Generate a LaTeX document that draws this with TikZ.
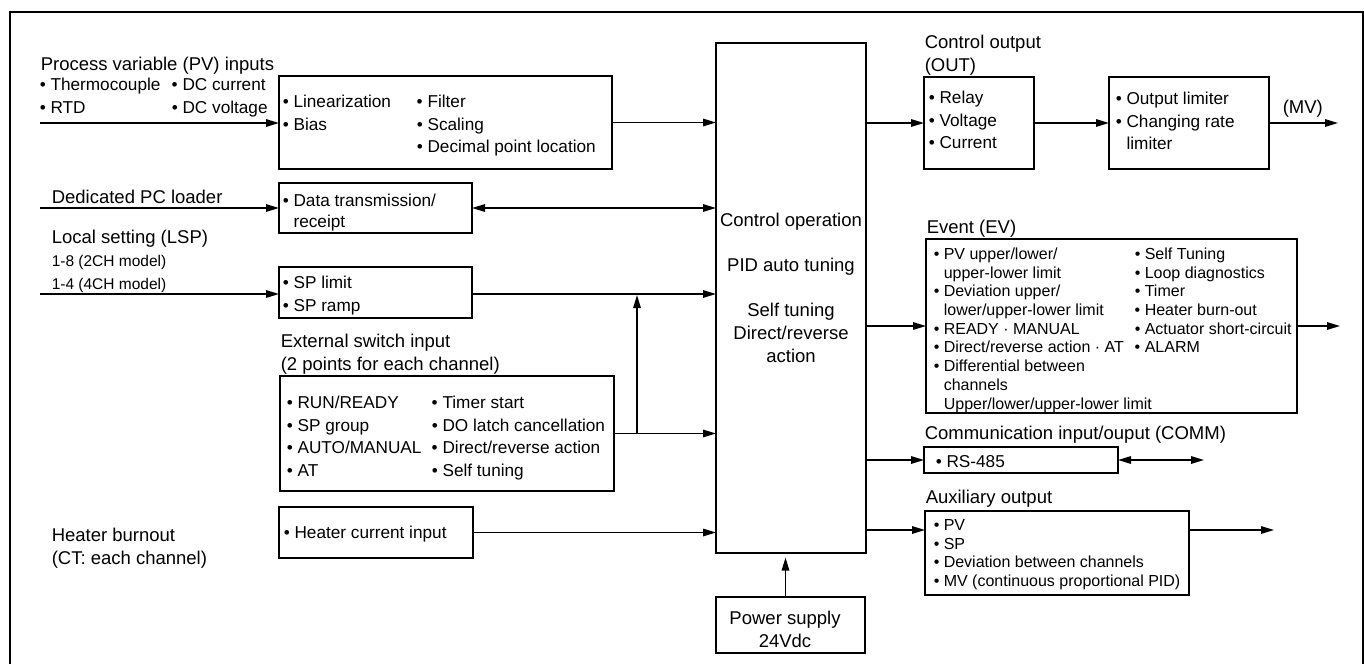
\documentclass[tikz,border=0pt]{standalone}
\usepackage{fontspec}
\setmainfont{Liberation Sans}
\usetikzlibrary{arrows.meta,positioning}

\newcommand\lblfont{\fontsize{18.5}{23}\selectfont}
\newcommand\boxfont{\fontsize{17.2}{22.5}\selectfont}
\newcommand\evfont{\fontsize{16}{18.7}\selectfont}
\newcommand\chfont{\fontsize{15.5}{23}\selectfont}
\newcommand\dotitem{•~}
\newcommand\bulind{\phantom{•~}}
\newcommand\rows[1]{\begin{tabular}{@{}l@{}}#1\end{tabular}}
\newcommand\twocol[2]{\begin{tabular}{@{}p{#1}@{}l@{}}#2\end{tabular}}

\begin{document}
\begin{tikzpicture}[->,>={Triangle[length=13pt,width=7.5pt]},line width=1.5pt,x=1pt,y=-1pt]

  \tikzstyle{blk}=[draw=black,line width=2pt,outer sep=0pt,inner sep=0pt,anchor=north west]
  \tikzstyle{txt}=[inner sep=0pt,align=left,font=\boxfont]
  \tikzstyle{lbl}=[inner sep=0pt,anchor=west,align=left,font=\lblfont]

  \useasboundingbox (0,0) rectangle (1364,664);
  \draw[-] (10,664) |- (1363,12) -- (1363,664);

  \coordinate (pvsrc)   at (40,123);
  \coordinate (pcsrc)   at (40,208);
  \coordinate (lspsrc)  at (40,294);
  \coordinate (swj)     at (637,433);
  \coordinate (mvend)   at (1338,123);
  \coordinate (evend)   at (1340,326);
  \coordinate (commend) at (1204,460);
  \coordinate (auxend)  at (1274,530);

  % inputs
  \node[lbl] (pvlbl) at (40,66) {Process variable (PV) inputs};
  \node[lbl,font=\boxfont] (pvsig) at (39,97.7)
    {\twocol{132pt}{\dotitem Thermocouple & \dotitem DC current\\\dotitem RTD & \dotitem DC voltage}};
  \node[lbl] (pclbl)  at (51,197) {Dedicated PC loader};
  \node[lbl] (lsplbl) at (51,239) {Local setting (LSP)};
  \node[lbl,font=\chfont] (lspch) at (51,274) {1-8 (2CH model)\\1-4 (4CH model)};
  \node[lbl] (htlbl)  at (51,548) {Heater burnout\\(CT: each channel)};

  \node[blk,minimum width=333,minimum height=93] (pv) at (279,76) {};
  \node[txt,below right=15.4pt and 3pt of pv.north west] (pvtxt)
    {\twocol{134pt}{\dotitem Linearization & \dotitem Filter\\\dotitem Bias & \dotitem Scaling\\ & \dotitem Decimal point location}};
  \node[blk,minimum width=193,minimum height=50] (pcdata) at (279,183) {};
  \node[txt,below right=7pt and 3pt of pcdata.north west] (pcdatatxt)
    {\rows{\dotitem Data transmission/\\[-1.5pt]\bulind receipt}};
  \node[blk,minimum width=193,minimum height=51] (sp) at (279,267) {};
  \node[txt,below right=5.4pt and 3pt of sp.north west] (sptxt)
    {\rows{\dotitem SP limit\\\dotitem SP ramp}};
  \node[blk,minimum width=334,minimum height=115] (ext) at (280,376) {};
  \node[txt,below right=16.4pt and 6pt of ext.north west] (exttxt)
    {\twocol{145pt}{\dotitem RUN/READY & \dotitem Timer start\\\dotitem SP group & \dotitem DO latch cancellation\\\dotitem AUTO/MANUAL & \dotitem Direct/reverse action\\\dotitem AT & \dotitem Self tuning}};
  \node[lbl,above=0.5pt of ext.north west,anchor=south west] (extlbl) {External switch input\\(2 points for each channel)};
  \node[blk,minimum width=194,minimum height=51] (heater) at (279,507) {};
  \node[txt,below right=15pt and 4pt of heater.north west] (heatertxt)
    {\rows{\dotitem Heater current input}};

  % control block
  \node[blk,minimum width=150,minimum height=510] (ctrl) at (716,43) {};
  \node[font=\lblfont,align=center] (ctrltxt) at (791,288)
    {Control operation\\[22pt]PID auto tuning\\[22pt]Self tuning\\Direct/reverse\\action};
  \node[blk,minimum width=149,minimum height=56] (power) at (716,597) {};
  \node[font=\lblfont,align=center] (pwrtxt) at (785,629) {Power supply\\24Vdc};
  \coordinate (pwrtop) at ([xshift=-5pt]power.north);

  % outputs
  \node[blk,minimum width=110,minimum height=92] (out) at (924,77) {};
  \node[txt,below right=10.4pt and 4pt of out.north west] (outtxt)
    {\rows{\dotitem Relay\\\dotitem Voltage\\\dotitem Current}};
  \node[lbl,above=1pt of out.north west,anchor=south west] (outlbl) {Control output\\(OUT)};
  \node[blk,minimum width=160,minimum height=92] (lim) at (1109,77) {};
  \node[txt,below right=11.4pt and 6pt of lim.north west] (limtxt)
    {\rows{\dotitem Output limiter\\\dotitem Changing rate\\\bulind limiter}};
  \node[lbl] (mvlbl) at (1282,109) {(MV)};

  \node[blk,minimum width=371,minimum height=174] (event) at (926,239) {};
  \node[txt,font=\evfont,below right=6.6pt and 7pt of event.north west] (eventtxt)
    {\twocol{201pt}{
     \dotitem PV upper/lower/ & \dotitem Self Tuning\\
     \bulind upper-lower limit & \dotitem Loop diagnostics\\
     \dotitem Deviation upper/ & \dotitem Timer\\
     \bulind lower/upper-lower limit & \dotitem Heater burn-out\\
     \dotitem READY · MANUAL & \dotitem Actuator short-circuit\\
     \dotitem Direct/reverse action · AT & \dotitem ALARM\\
     \multicolumn{2}{@{}l@{}}{\dotitem Differential between}\\
     \multicolumn{2}{@{}l@{}}{\bulind channels}\\
     \multicolumn{2}{@{}l@{}}{\bulind Upper/lower/upper-lower limit}}};
  \node[lbl,above=0.5pt of event.north west,anchor=south west] (evlbl) {Event (EV)};

  \node[blk,minimum width=194,minimum height=26] (comm) at (924,447) {};
  \node[txt,below right=4.4pt and 11pt of comm.north west] (commtxt) {\rows{\dotitem RS-485}};
  \node[lbl,above=2.5pt of comm.north west,anchor=south west] (commlbl) {Communication input/ouput (COMM)};

  \node[blk,minimum width=264,minimum height=84] (aux) at (925,511) {};
  \node[txt,font=\evfont,below right=5.6pt and 8pt of aux.north west] (auxtxt)
    {\rows{\dotitem PV\\\dotitem SP\\\dotitem Deviation between channels\\\dotitem MV (continuous proportional PID)}};
  \node[lbl,above=3pt of aux.north west,anchor=south west] (auxlbl) {Auxiliary output};
  \coordinate (auxin) at ([yshift=-19pt]aux.north west);

  \path (pvsrc) edge (pvsrc -| pv.west)
        (pv.east) edge (pv.east -| ctrl.west)
        (pcsrc) edge (pcsrc -| pcdata.west)
        (pcdata.east) edge[<->] (pcdata.east -| ctrl.west)
        (lspsrc) edge (lspsrc -| sp.west)
        (lspsrc -| sp.east) edge (lspsrc -| ctrl.west)
        (ext.east) edge (ext.east -| ctrl.west)
        (swj) edge[shorten >=1pt] (swj |- lspsrc)
        (heater.east) edge (heater.east -| ctrl.west)
        (pwrtop) edge[shorten >=4.5pt] (pwrtop |- ctrl.south)
        (ctrl.east |- out.west) edge (out.west)
        (out.east) edge (lim.west)
        (lim.east) edge (mvend)
        (ctrl.east |- event.west) edge (event.west)
        (event.east) edge (evend)
        (ctrl.east |- comm.west) edge (comm.west)
        (comm.east) edge[<->] (commend)
        (ctrl.east |- auxin) edge (auxin)
        (auxin -| aux.east) edge (auxend)
  ;
\end{tikzpicture}
\end{document}
